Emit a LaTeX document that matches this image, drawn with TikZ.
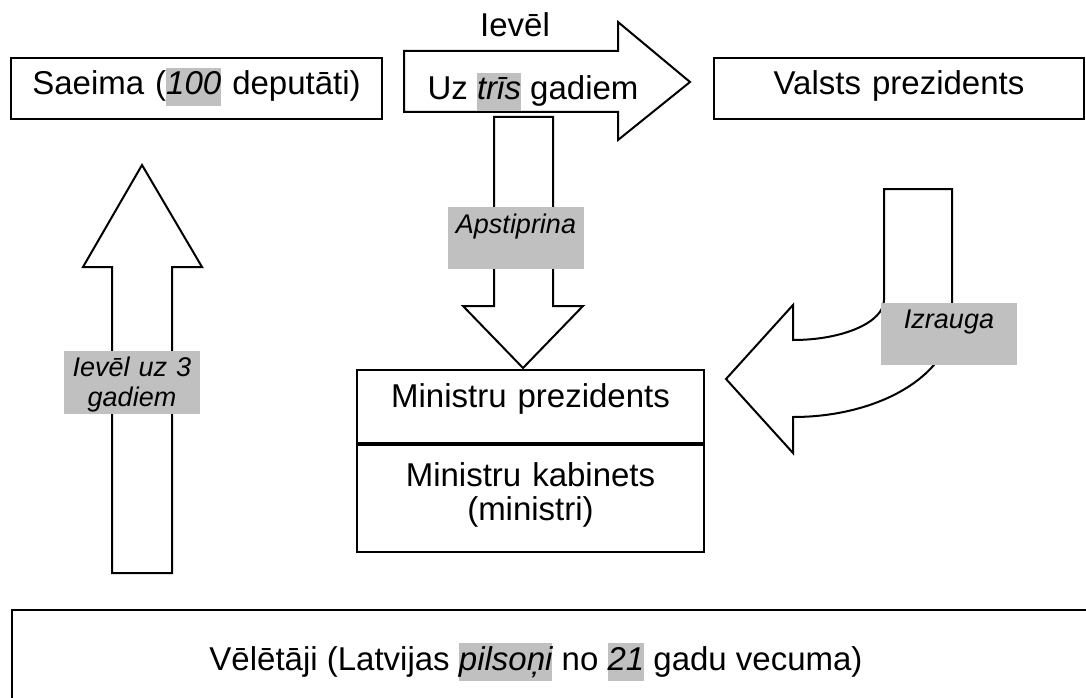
\documentclass[tikz,border=0pt]{standalone}
\usepackage{fontspec}
\setmainfont{Liberation Sans}
\usepackage{xcolor}
\usetikzlibrary{positioning}
\definecolor{tagGray}{HTML}{C0C0C0}
\newcommand{\hlgray}[1]{{\setlength{\fboxsep}{0pt}\colorbox{tagGray}{\strut\itshape #1}}}

\begin{document}
\begin{tikzpicture}[x=1pt,y=-1pt,line width=2pt,
  main box/.style={draw,fill=white,inner sep=0pt,anchor=north west,align=center,font=\fontsize{33}{38}\selectfont},
  tag box/.style={fill=tagGray,inner sep=0pt,anchor=north west,align=center,text width=136pt,font=\fontsize{27}{30}\selectfont\itshape},
  big arrow/.style={draw,fill=white,line join=miter},
  plain text/.style={anchor=base,inner sep=0pt,font=\fontsize{33}{38}\selectfont}]
            \clip (0,0) rectangle (1086,698);

            % block arrows
            \draw[big arrow] (112,573) -- (112,267) -- (83,267) -- (142,165) -- (202,267) -- (172,267) -- (172,573) -- cycle;
            \draw[big arrow] (404,51) -- (618,51) -- (618,22) -- (690,82) -- (618,140) -- (618,112) -- (404,112) -- cycle;
            \draw[big arrow] (494,117) -- (553,117) -- (553,306) -- (583,306) -- (523,368) -- (463,306) -- (494,306) -- cycle;
            \draw[big arrow] (884,189) -- (952,189) -- (952,320)
                .. controls (952,373.6) and (880.8,417) .. (793,417) -- (793,453) -- (726,379) -- (793,305) -- (793,340)
                .. controls (843.3,340) and (884,322.1) .. (884,300) -- cycle;

            \node[main box,text width=371pt,text height=37pt,text depth=24pt] (saeima) at (10,57) {Saeima (\hlgray{100} deputāti)};
            \node[main box,text width=370pt,text height=37pt,text depth=24pt] (valsts) at (713,57) {Valsts prezidents};
            \node[main box,text width=347pt,text height=37pt,text depth=36pt] (mprez) at (356,369) {Ministru prezidents};
            \node[main box,text width=347pt,text height=41pt,text depth=66pt,font=\fontsize{33}{34}\selectfont] (mkab) [below=0pt of mprez] {Ministru kabinets\\(ministri)};
            \node[main box,minimum width=1120pt,minimum height=150pt] (veletaji) at (11,609) {};

            \node[plain text] (ievel) at (515,37) {Ievēl};
            \node[plain text] (trisgadi) at (533,100) {Uz \hlgray{trīs} gadiem};
            \node[plain text] (vtext) at (536,670) {Vēlētāji (Latvijas \hlgray{pilsoņi} no \hlgray{21} gadu vecuma)};

            \node[tag box,text height=25pt,text depth=38pt] (ievelTag) at (63,350) {Ievēl uz 3\\gadiem};
            \node[tag box,text height=26pt,text depth=36pt] (apstTag) at (447,206) {Apstiprina};
            \node[tag box,text height=25pt,text depth=37pt] (izrTag) at (880,302) {Izrauga};
        \end{tikzpicture}
\end{document}
